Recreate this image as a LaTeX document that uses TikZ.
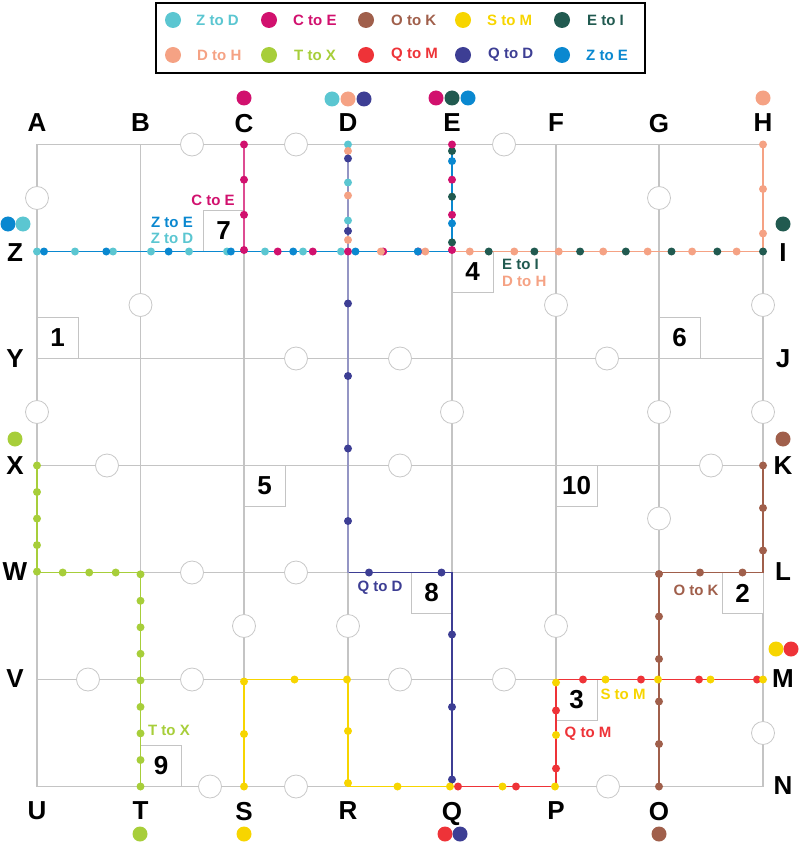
\documentclass[tikz,border=0pt]{standalone}
\usepackage{fontspec}
\setmainfont{Liberation Sans}
\usepackage{tikz}
\definecolor{gridline}{RGB}{196,196,196}
\definecolor{holeline}{RGB}{200,200,200}
\definecolor{zdcol}{RGB}{91,198,209}
\definecolor{cecol}{RGB}{209,17,110}
\definecolor{okcol}{RGB}{160,95,75}
\definecolor{smcol}{RGB}{247,213,0}
\definecolor{eicol}{RGB}{33,90,80}
\definecolor{dhcol}{RGB}{245,162,132}
\definecolor{txcol}{RGB}{167,206,58}
\definecolor{qmcol}{RGB}{238,51,56}
\definecolor{qdcol}{RGB}{61,62,148}
\definecolor{zecol}{RGB}{10,136,208}
\tikzset{
  grd/.style  ={draw=gridline, line width=1.2pt},
  hole/.style ={draw=holeline, fill=white, line width=0.8pt},
  nbox/.style ={draw=gridline, fill=white, line width=1pt},
  rt/.style   ={line width=1.3pt, line join=miter},
  lab/.style  ={font=\fontsize{26}{26}\selectfont\bfseries, inner sep=0pt, text depth=0pt},
  num/.style  ={font=\fontsize{26}{26}\selectfont\bfseries, inner sep=0pt},
  rlab/.style ={font=\fontsize{15}{15}\selectfont\bfseries, inner sep=1pt},
}

\begin{document}
\begin{tikzpicture}[x=1pt,y=-1pt]
  \useasboundingbox (0,0) rectangle (800,842);
  % legend
  \draw[line width=1.5pt] (156,3) rectangle (645,73);
  \fill[zdcol] (173,20) circle (8);
  \node[rlab,anchor=west,text=zdcol] (kzd) at (195,20) {Z to D};
  \fill[cecol] (269,20) circle (8);
  \node[rlab,anchor=west,text=cecol] (kce) at (292,20) {C to E};
  \fill[okcol] (366,20) circle (8);
  \node[rlab,anchor=west,text=okcol] (kok) at (390,20) {O to K};
  \fill[smcol] (463,20) circle (8);
  \node[rlab,anchor=west,text=smcol] (ksm) at (486,20) {S to M};
  \fill[eicol] (562,20) circle (8);
  \node[rlab,anchor=west,text=eicol] (kei) at (586,20) {E to I};
  \fill[dhcol] (173,55) circle (8);
  \node[rlab,anchor=west,text=dhcol] (kdh) at (196,55) {D to H};
  \fill[txcol] (269,55) circle (8);
  \node[rlab,anchor=west,text=txcol] (ktx) at (293,55) {T to X};
  \fill[qmcol] (366,55) circle (8);
  \node[rlab,anchor=west,text=qmcol] (kqm) at (390,55) {Q to M};
  \fill[qdcol] (463,55) circle (8);
  \node[rlab,anchor=west,text=qdcol] (kqd) at (487,55) {Q to D};
  \fill[zecol] (562,55) circle (8);
  \node[rlab,anchor=west,text=zecol] (kze) at (585,55) {Z to E};

  % grid
  \draw[grd] (37,144.5) rectangle (763,786.5);
  \draw[grd] (37,251.5) -- (763,251.5);
  \draw[grd] (37,358.5) -- (763,358.5);
  \draw[grd] (37,465.5) -- (763,465.5);
  \draw[grd] (37,572.5) -- (763,572.5);
  \draw[grd] (37,679.5) -- (763,679.5);
  \draw[grd] (140.5,144.5) -- (140.5,786.5);
  \draw[grd] (244,144.5) -- (244,786.5);
  \draw[grd] (348,144.5) -- (348,786.5);
  \draw[grd] (452,144.5) -- (452,786.5);
  \draw[grd] (556,144.5) -- (556,786.5);
  \draw[grd] (659,144.5) -- (659,786.5);

  % holes
  \draw[hole] (192,144.5) circle (11.5);
  \draw[hole] (296,144.5) circle (11.5);
  \draw[hole] (504,144.5) circle (11.5);
  \draw[hole] (37,198) circle (11.5);
  \draw[hole] (659,198) circle (11.5);
  \draw[hole] (140.5,305) circle (11.5);
  \draw[hole] (556,305) circle (11.5);
  \draw[hole] (763,305) circle (11.5);
  \draw[hole] (296,358.5) circle (11.5);
  \draw[hole] (400,358.5) circle (11.5);
  \draw[hole] (607,358.5) circle (11.5);
  \draw[hole] (37,412) circle (11.5);
  \draw[hole] (452,412) circle (11.5);
  \draw[hole] (659,412) circle (11.5);
  \draw[hole] (763,412) circle (11.5);
  \draw[hole] (107,465.5) circle (11.5);
  \draw[hole] (400,465.5) circle (11.5);
  \draw[hole] (711,465.5) circle (11.5);
  \draw[hole] (659,518.5) circle (11.5);
  \draw[hole] (192,572.5) circle (11.5);
  \draw[hole] (296,572.5) circle (11.5);
  \draw[hole] (244,626) circle (11.5);
  \draw[hole] (348,626) circle (11.5);
  \draw[hole] (556,626) circle (11.5);
  \draw[hole] (88,679.5) circle (11.5);
  \draw[hole] (192,679.5) circle (11.5);
  \draw[hole] (400,679.5) circle (11.5);
  \draw[hole] (504,679.5) circle (11.5);
  \draw[hole] (763,733) circle (11.5);
  \draw[hole] (210,786.5) circle (11.5);
  \draw[hole] (296,786.5) circle (11.5);
  \draw[hole] (608,786.5) circle (11.5);

  % numbered boxes
  \draw[nbox] (37,317.5) rectangle (78,358.5);
  \node[num] (n1) at (57.5,338) {1};
  \draw[nbox] (722,572.5) rectangle (763,613.5);
  \node[num] (n2) at (742.5,593) {2};
  \draw[nbox] (556,679.5) rectangle (597,720.5);
  \node[num] (n3) at (576.5,700) {3};
  \draw[nbox] (452,251.5) rectangle (493,292.5);
  \node[num] (n4) at (472.5,272) {4};
  \draw[nbox] (244,465.5) rectangle (285,506.5);
  \node[num] (n5) at (264.5,486) {5};
  \draw[nbox] (659,317.5) rectangle (700,358.5);
  \node[num] (n6) at (679.5,338) {6};
  \draw[nbox] (203,210.5) rectangle (244,251.5);
  \node[num] (n7) at (223.5,231) {7};
  \draw[nbox] (411,572.5) rectangle (452,613.5);
  \node[num] (n8) at (431.5,593) {8};
  \draw[nbox] (140.5,745.5) rectangle (181.5,786.5);
  \node[num] (n9) at (161,766) {9};
  \draw[nbox] (556,465.5) rectangle (597,506.5);
  \node[num] (n10) at (576.5,486) {10};

  % routes
  \draw[rt,zdcol] (37,251.5) -- (348,251.5) -- (348,144.5);
  \draw[rt,eicol] (452,144.5) -- (452,251.5) -- (763,251.5);
  \draw[rt,cecol!75] (244,144.5) -- (244,251.5) -- (452,251.5) -- (452,144.5);
  \draw[rt,dhcol] (348,144.5) -- (348,251.5) -- (763,251.5) -- (763,144.5);
  \draw[rt,zecol] (37,251.5) -- (452,251.5) -- (452,144.5);
  \draw[rt,qdcol] (452,786.5) -- (452,572.5) -- (348,572.5);
  \draw[rt,qdcol!55] (348,572.5) -- (348,144.5);
  \draw[rt,txcol] (140.5,786.5) -- (140.5,572.5) -- (37,572.5) -- (37,465.5);
  \draw[rt,okcol] (659,786.5) -- (659,572.5) -- (763,572.5) -- (763,465.5);
  \draw[rt,smcol] (244,786.5) -- (244,679.5) -- (348,679.5) -- (348,786.5) -- (556,786.5) -- (556,679.5) -- (763,679.5);
  \draw[rt,qmcol] (452,786.5) -- (556,786.5) -- (556,679.5) -- (763,679.5);

  % stops
  \fill[zdcol] (37,251.5) circle (4) (75,251.5) circle (4) (113,251.5) circle (4)
    (151,251.5) circle (4) (189,251.5) circle (4) (227,251.5) circle (4)
    (265,251.5) circle (4) (303,251.5) circle (4) (341,251.5) circle (4)
    (348,220.5) circle (4) (348,182.5) circle (4) (348,144.5) circle (4);
  \fill[eicol] (452,151) circle (4) (452,196.7) circle (4) (452,242.4) circle (4)
    (488.7,251.5) circle (4) (534.4,251.5) circle (4) (580.1,251.5) circle (4)
    (625.8,251.5) circle (4) (671.5,251.5) circle (4) (717.3,251.5) circle (4)
    (763,251.5) circle (4);
  \fill[cecol] (244,144.5) circle (4) (244,179.7) circle (4) (244,214.8) circle (4)
    (244,250) circle (4) (277.7,251.5) circle (4) (312.8,251.5) circle (4)
    (348,251.5) circle (4) (383.2,251.5) circle (4) (418.3,251.5) circle (4)
    (452,250) circle (4) (452,214.8) circle (4) (452,179.7) circle (4)
    (452,144.5) circle (4);
  \fill[dhcol] (348,151) circle (4) (348,195.5) circle (4) (348,239.9) circle (4)
    (380.9,251.5) circle (4) (425.3,251.5) circle (4) (469.8,251.5) circle (4)
    (514.3,251.5) circle (4) (558.7,251.5) circle (4) (603.2,251.5) circle (4)
    (647.6,251.5) circle (4) (692.1,251.5) circle (4) (736.6,251.5) circle (4)
    (763,233.5) circle (4) (763,189) circle (4) (763,144.5) circle (4);
  \fill[zecol] (44,251.5) circle (4) (106.3,251.5) circle (4) (168.6,251.5) circle (4)
    (230.9,251.5) circle (4) (293.2,251.5) circle (4) (355.5,251.5) circle (4)
    (417.8,251.5) circle (4) (452,223.4) circle (4) (452,161.1) circle (4);
  \fill[qdcol] (452,779.5) circle (4) (452,707) circle (4) (452,634.5) circle (4)
    (441.5,572.5) circle (4) (369,572.5) circle (4) (348,521) circle (4)
    (348,448.5) circle (4) (348,376) circle (4) (348,303.5) circle (4)
    (348,231) circle (4) (348,158.5) circle (4);
  \fill[txcol] (140.5,786.5) circle (4) (140.5,760) circle (4) (140.5,733.4) circle (4)
    (140.5,706.9) circle (4) (140.5,680.4) circle (4) (140.5,653.8) circle (4)
    (140.5,627.3) circle (4) (140.5,600.8) circle (4) (140.5,574.3) circle (4)
    (115.7,572.5) circle (4) (89.2,572.5) circle (4) (62.7,572.5) circle (4)
    (37,571.6) circle (4) (37,545.1) circle (4) (37,518.6) circle (4)
    (37,492) circle (4) (37,465.5) circle (4);
  \fill[okcol] (659,786.5) circle (4) (659,744) circle (4) (659,701.5) circle (4)
    (659,659) circle (4) (659,616.5) circle (4) (659,574) circle (4)
    (700,572.5) circle (4) (742.5,572.5) circle (4) (763,550.5) circle (4)
    (763,508) circle (4) (763,465.5) circle (4);
  \fill[smcol] (244,786.5) circle (4) (244,734) circle (4) (244,681.5) circle (4)
    (294.5,679.5) circle (4) (347,679.5) circle (4) (348,731) circle (4)
    (348,783) circle (4) (397.5,786.5) circle (4) (450,786.5) circle (4)
    (502.5,786.5) circle (4) (555,786.5) circle (4) (556,735) circle (4)
    (556,682.5) circle (4) (605.5,679.5) circle (4) (658,679.5) circle (4)
    (710.5,679.5) circle (4);
  \fill[qmcol] (458,786.5) circle (4) (516,786.5) circle (4) (556,768.5) circle (4)
    (556,710.5) circle (4) (583,679.5) circle (4) (641,679.5) circle (4)
    (699,679.5) circle (4) (757,679.5) circle (4);
  \fill[smcol] (763,679.5) circle (4);

  % route labels
  \node[rlab,text=cecol] (lce) at (213,200) {C to E};
  \node[rlab,text=zecol] (lze) at (172,222) {Z to E};
  \node[rlab,text=zdcol] (lzd) at (172,238) {Z to D};
  \node[rlab,text=eicol,anchor=west] (lei) at (501,264) {E to I};
  \node[rlab,text=dhcol,anchor=west] (ldh) at (501,281) {D to H};
  \node[rlab,text=qdcol] (lqd) at (380,588) {Q to D};
  \node[rlab,text=okcol] (lok) at (696,590) {O to K};
  \node[rlab,text=smcol] (lsm) at (623,694) {S to M};
  \node[rlab,text=qmcol] (lqm) at (588,734) {Q to M};
  \node[rlab,text=txcol] (ltx) at (169,730) {T to X};

  % end markers
  \fill[cecol] (244,98) circle (7.5);
  \fill[zdcol] (332,99) circle (7.5);
  \fill[dhcol] (348,99) circle (7.5);
  \fill[qdcol] (364,99) circle (7.5);
  \fill[cecol] (436,98) circle (7.5);
  \fill[eicol] (452,98) circle (7.5);
  \fill[zecol] (468,98) circle (7.5);
  \fill[dhcol] (763,98) circle (7.5);
  \fill[zecol] (8,224) circle (7.5);
  \fill[zdcol] (23,224) circle (7.5);
  \fill[eicol] (783,224) circle (7.5);
  \fill[txcol] (15,439) circle (7.5);
  \fill[okcol] (783,439) circle (7.5);
  \fill[smcol] (776,649) circle (7.5);
  \fill[qmcol] (791,649) circle (7.5);
  \fill[txcol] (140,834) circle (7.5);
  \fill[smcol] (244,834) circle (7.5);
  \fill[qmcol] (445,834) circle (7.5);
  \fill[qdcol] (460,834) circle (7.5);
  \fill[okcol] (659,834) circle (7.5);

  % letters
  \node[lab] (A) at (37,123) {A};
  \node[lab] (B) at (140.5,123) {B};
  \node[lab] (C) at (244,123) {C};
  \node[lab] (D) at (348,123) {D};
  \node[lab] (E) at (452,123) {E};
  \node[lab] (F) at (556,123) {F};
  \node[lab] (G) at (659,123) {G};
  \node[lab] (H) at (763,123) {H};
  \node[lab] (Z) at (15,253) {Z};
  \node[lab] (Y) at (15,359) {Y};
  \node[lab] (X) at (15,466) {X};
  \node[lab] (W) at (15,572) {W};
  \node[lab] (V) at (15,679) {V};
  \node[lab] (I) at (783,253) {I};
  \node[lab] (J) at (783,359) {J};
  \node[lab] (K) at (783,466) {K};
  \node[lab] (L) at (783,572) {L};
  \node[lab] (M) at (783,679) {M};
  \node[lab] (N) at (783,786) {N};
  \node[lab] (U) at (37,811) {U};
  \node[lab] (T) at (140.5,811) {T};
  \node[lab] (S) at (244,811) {S};
  \node[lab] (R) at (348,811) {R};
  \node[lab] (Q) at (452,811) {Q};
  \node[lab] (P) at (556,811) {P};
  \node[lab] (O) at (659,811) {O};
\end{tikzpicture}
\end{document}
